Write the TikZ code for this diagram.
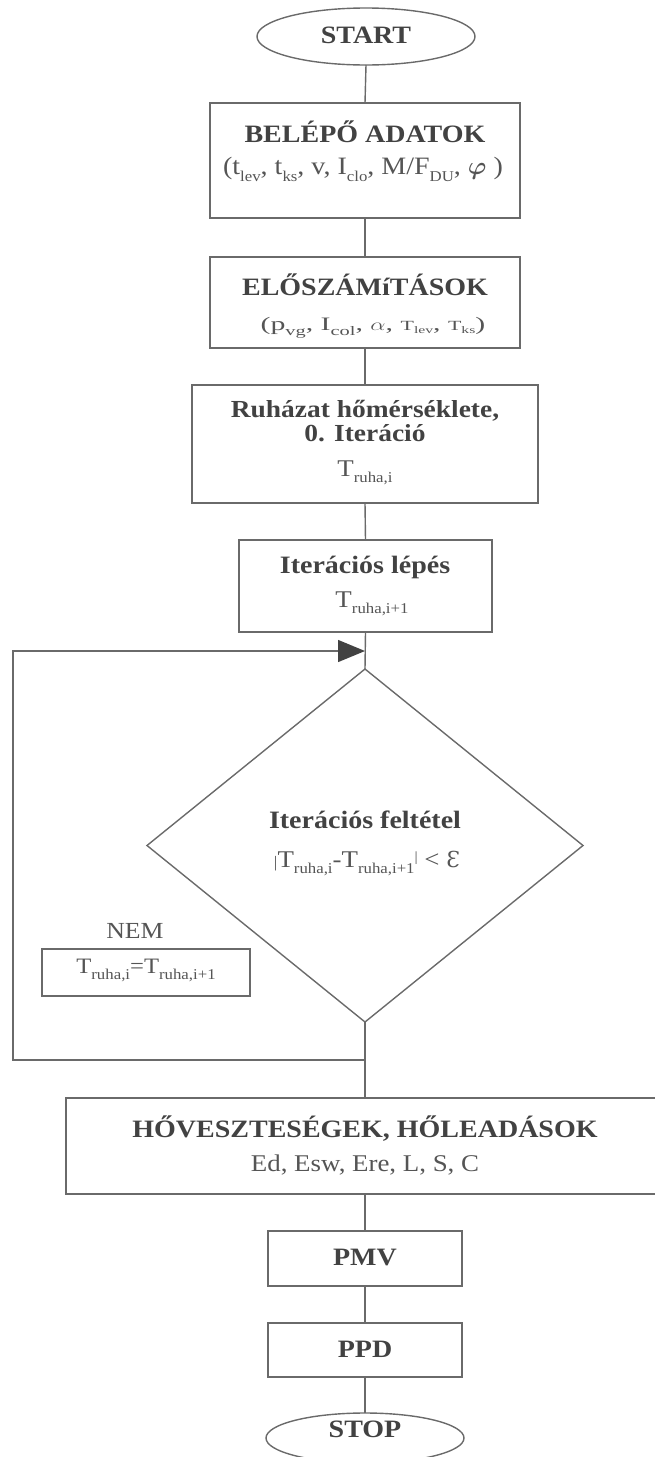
\documentclass[tikz,border=0pt]{standalone}
\usepackage{fontspec}
\setmainfont{Liberation Serif}[FakeStretch=1.12]
\newfontfamily\dvs{DejaVu Serif}
\usepackage{amsmath,bm,graphicx}
\usetikzlibrary{arrows.meta,shapes.geometric}
\definecolor{ln}{HTML}{6A6A6A}
\definecolor{tx}{HTML}{424242}
\definecolor{tr}{HTML}{555555}
\newcommand\lw[2][15]{\raisebox{-0.28em}{\fontsize{#1}{#1}\selectfont #2}}
\begin{document}
\begin{tikzpicture}[x=1pt,y=-1pt,
  every node/.style={inner sep=0pt, outer sep=0pt},
  box/.style={draw=ln, line width=1.4pt, rectangle},
  ttl/.style={text=tx, font=\fontsize{25}{25}\selectfont\bfseries, anchor=base},
  txt/.style={text=tr, font=\fontsize{24}{24}\selectfont, anchor=base},
  conn/.style={draw=ln, line width=1.4pt}]
\useasboundingbox (0,0) rectangle (655,1457);
\clip (0,0) rectangle (655,1457);

% shapes
\node[box, ellipse, minimum width=218pt, minimum height=57pt] (start) at (366,36.5) {};
\node[box, minimum width=310pt, minimum height=115pt] (b1) at (365,160.5) {};
\node[box, minimum width=310pt, minimum height=91pt] (b2) at (365,302.5) {};
\node[box, minimum width=346pt, minimum height=118pt] (b3) at (365,444) {};
\node[box, minimum width=253pt, minimum height=92pt] (b4) at (365.5,586) {};
\node[box, diamond, minimum width=436pt, minimum height=353pt] (dia) at (365,845.5) {};
\node[box, line width=1.2pt, minimum width=208pt, minimum height=47pt] (nb) at (146,972.5) {};
\node[box, minimum width=598pt, minimum height=96pt] (b5) at (365,1146) {};
\node[box, minimum width=194pt, minimum height=55pt] (pmv) at (365,1258.5) {};
\node[box, minimum width=194pt, minimum height=54pt] (ppd) at (365,1350) {};
\node[box, ellipse, minimum width=198pt, minimum height=50pt] (stop) at (365,1438) {};

% texts
\node[ttl] (startT) at (366,43) {START};
\node[ttl] (b1t) at (365,142) {BELÉPŐ ADATOK};
\node[txt, font=\fontsize{25}{25}\selectfont] (b1s) at (363,174) {(t\lw{lev}, t\lw{ks}, v, I\lw{clo}, M/F\lw{DU}, $\bm{\varphi}$ )};
\node[ttl] (b2t) at (365,295) {ELŐSZÁMíTÁSOK};
\node[txt] (b2s) at (373,330) {\scalebox{1.4}[1]{\fontsize{19}{19}\selectfont (p\lw[13]{vg}, I\lw[13]{col}, $\alpha$, {\fontsize{14}{14}\selectfont T\lw[10]{lev}}, {\fontsize{14}{14}\selectfont T\lw[10]{ks}})}};
\node[ttl, anchor=center, align=center, font=\fontsize{24.5}{24}\selectfont\bfseries] (b3t) at (365,421) {Ruházat hőmérséklete,\\0. Iteráció};
\node[txt] (b3s) at (365,476) {T\lw{ruha,i}};
\node[ttl] (b4t) at (365,573) {Iterációs lépés};
\node[txt] (b4s) at (372,607) {T\lw{ruha,i+1}};
\node[ttl] (diat) at (365,828) {Iterációs feltétel};
\node[txt] (dias) at (367,867) {{\fontsize{16}{16}\selectfont|}T\lw{ruha,i}-T\lw{ruha,i+1}\raisebox{0.25em}{\fontsize{14}{14}\selectfont|} < {\dvs\fontsize{22}{22}\selectfont Ɛ}};
\node[txt, font=\fontsize{23}{23}\selectfont] (nemt) at (135,938) {NEM};
\node[txt, font=\fontsize{22}{22}\selectfont] (nbs) at (146,973) {T\lw{ruha,i}=T\lw{ruha,i+1}};
\node[ttl] (b5t) at (365,1137) {HŐVESZTESÉGEK, HŐLEADÁSOK};
\node[txt] (b5s) at (365,1171) {Ed, Esw, Ere, L, S, C};
\node[ttl] (pmvt) at (365,1265) {PMV};
\node[ttl] (ppdt) at (365,1357) {PPD};
\node[ttl] (stopt) at (365,1437) {STOP};

% connectors
\coordinate (jn) at (365,651);
\coordinate (j2) at (365,1060);
\coordinate (lpBot) at (13,1060);
\coordinate (lpTop) at (13,651);
\draw[conn] (start.south) -- (b1.north);
\draw[conn] (b1.south) -- (b2.north);
\draw[conn] (b2.south) -- (b3.north);
\draw[conn] (b3.south) -- (b4.north);
\draw[conn] (b4.south) -- (dia.north);
\draw[conn] (dia.south) -- (b5.north);
\draw[conn] (b5.south) -- (pmv.north);
\draw[conn] (pmv.south) -- (ppd.north);
\draw[conn] (ppd.south) -- (stop.north);
\draw[conn, -{Triangle[length=27pt,width=22pt,fill=tx,color=tx]}] (j2) -- (lpBot) -- (lpTop) -- (jn);
\end{tikzpicture}
\end{document}
